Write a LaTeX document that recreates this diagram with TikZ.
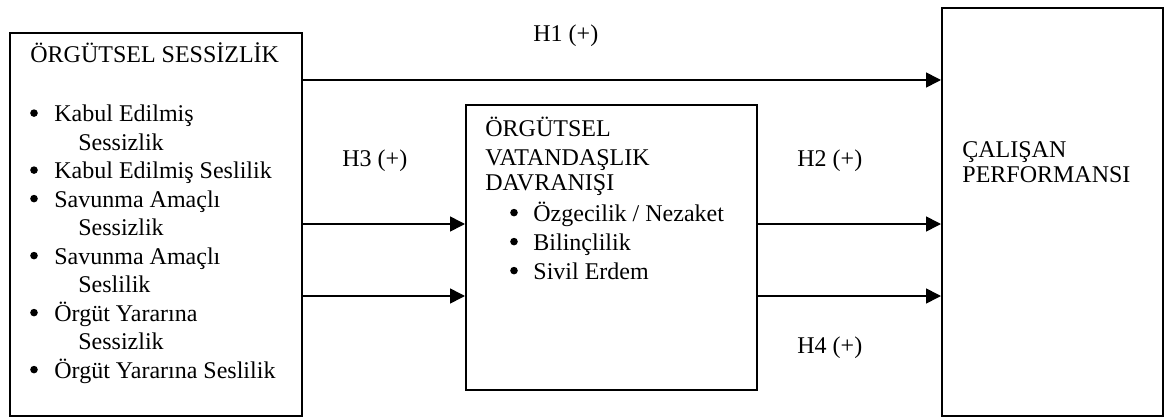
\documentclass[tikz,border=0pt]{standalone}
\usepackage{fontspec}
\setmainfont{Liberation Serif}
\usetikzlibrary{arrows.meta}
\begin{document}
\begin{tikzpicture}[x=0.5pt,y=-0.5pt, font=\fontsize{12}{14}\selectfont,
  box/.style={draw, line width=0.8pt, inner sep=0pt, anchor=north west},
  txt/.style={anchor=base west, inner sep=0pt},
  bul/.style={circle, fill, inner sep=0pt, minimum size=3.8pt, yshift=4.2pt},
  arr/.style={line width=0.8pt, -{Triangle[length=7.5pt,width=7.5pt]}}]
\useasboundingbox (0,0) rectangle (1167,417);
% boxes
\node[box, minimum width=146pt, minimum height=191.5pt] (lb) at (9,32) {};
\node[box, minimum width=145.5pt, minimum height=142.5pt] (mb) at (465,104) {};
\node[box, minimum width=110.5pt, minimum height=204pt] (rb) at (941,7) {};
% left box text
\node[txt] (lt) at (30,63) {ÖRGÜTSEL SESSİZLİK};
\node[bul] (lb1) at (34,121.5) {};
\node[txt] (l1a) at (54,121.5) {Kabul Edilmiş};
\node[txt] (l1b) at (78,150) {Sessizlik};
\node[bul] (lb2) at (34,178.5) {};
\node[txt] (l2a) at (54,178.5) {Kabul Edilmiş Seslilik};
\node[bul] (lb3) at (34,207) {};
\node[txt] (l3a) at (54,207) {Savunma Amaçlı};
\node[txt] (l3b) at (78,235.5) {Sessizlik};
\node[bul] (lb4) at (34,264) {};
\node[txt] (l4a) at (54,264) {Savunma Amaçlı};
\node[txt] (l4b) at (78,292.5) {Seslilik};
\node[bul] (lb5) at (34,321) {};
\node[txt] (l5a) at (54,321) {Örgüt Yararına};
\node[txt] (l5b) at (78,349.5) {Sessizlik};
\node[bul] (lb6) at (34,378) {};
\node[txt] (l6a) at (54,378) {Örgüt Yararına Seslilik};
% middle box text
\node[txt] (m1) at (485,137) {ÖRGÜTSEL};
\node[txt] (m2) at (485,165) {VATANDAŞLIK};
\node[txt] (m3) at (485,191) {DAVRANIŞI};
\node[bul] (mb1) at (514,221) {};
\node[txt] (m4) at (533,221) {Özgecilik / Nezaket};
\node[bul] (mb2) at (514,250) {};
\node[txt] (m5) at (533,250) {Bilinçlilik};
\node[bul] (mb3) at (514,279) {};
\node[txt] (m6) at (533,279) {Sivil Erdem};
% right box text
\node[txt] (r1) at (962,157) {ÇALIŞAN};
\node[txt] (r2) at (962,183) {PERFORMANSI};
% labels
\node[txt] (h1) at (533,42) {H1 (+)};
\node[txt] (h3) at (342,167) {H3 (+)};
\node[txt] (h2) at (797,167) {H2 (+)};
\node[txt] (h4) at (797,353) {H4 (+)};
% arrows
\coordinate (y1) at (0,80);
\coordinate (y2) at (0,224);
\coordinate (y3) at (0,296);
\draw[arr] (lb.east |- y1) -- (rb.west |- y1);
\draw[arr] (lb.east |- y2) -- (mb.west |- y2);
\draw[arr] (lb.east |- y3) -- (mb.west |- y3);
\draw[arr] (mb.east |- y2) -- (rb.west |- y2);
\draw[arr] (mb.east |- y3) -- (rb.west |- y3);
\end{tikzpicture}
\end{document}
